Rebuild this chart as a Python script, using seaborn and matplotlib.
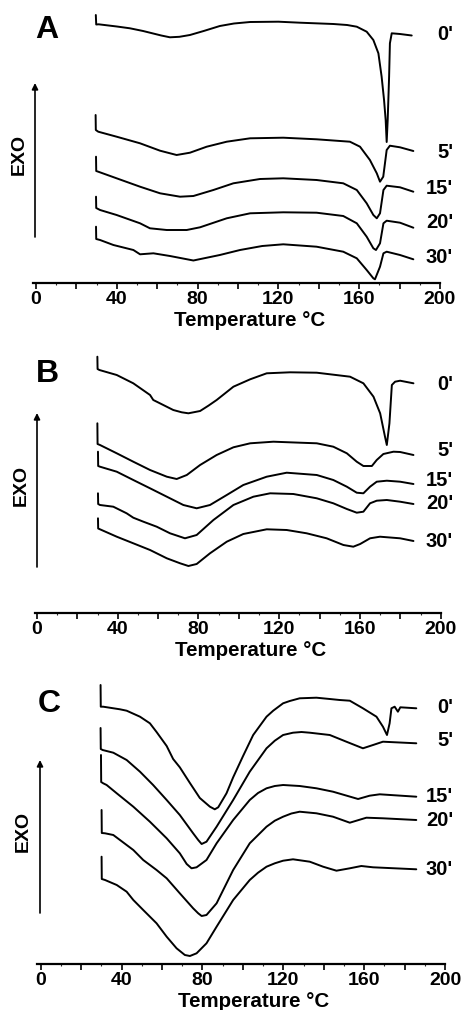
import numpy as np
import pandas as pd
import matplotlib
matplotlib.use("Agg")
import matplotlib.pyplot as plt
import seaborn as sns
from matplotlib.patches import FancyArrowPatch
from matplotlib.transforms import blended_transform_factory

# ---- DSC traces (temperature in °C, heat flow in arbitrary units, exo up) ----
TIMES = ["0'", "5'", "15'", "20'", "30'"]
XTICK_LABELS = ["0", "40", "80", "120", "160", "200"]

# Panel A
T_A0 = [29.6, 29.8, 31, 40, 46.5, 53, 58, 62, 66.3, 71, 76.2, 83, 91, 98, 106, 120, 130.7, 147.2, 154, 158.8, 163.7, 167, 169.5, 171.1, 172.3, 173.1, 173.6, 174.1, 174.8, 175.2, 176.1, 180.2, 186]
Q_A0 = [26.8, 25.85, 25.87, 25.65, 25.47, 25.2, 24.95, 24.75, 24.57, 24.62, 24.8, 25.2, 25.7, 25.95, 26.1, 26.13, 26.03, 25.9, 25.8, 25.63, 25.13, 24.3, 22.97, 20.63, 18.3, 16.3, 14.1, 16.3, 20.63, 23.97, 24.97, 24.9, 24.75]
T_A5 = [29.5, 29.6, 30.8, 39.9, 51.5, 61.4, 69.6, 76.2, 84.5, 94.4, 106.0, 122.4, 138.9, 155.4, 160.4, 165.3, 168.7, 170.3, 171.9, 173.6, 175.2, 180.2, 186.8]
Q_A5 = [16.8, 15.3, 15.13, 14.63, 13.97, 13.23, 12.8, 13.03, 13.63, 14.13, 14.47, 14.53, 14.37, 14.13, 13.63, 12.3, 10.97, 10.13, 10.63, 13.3, 13.73, 13.57, 13.2]
T_A15 = [29.7, 29.8, 30.8, 39.9, 51.5, 61.4, 71.3, 77.9, 87.8, 97.7, 110.9, 122.4, 138.9, 152.1, 158.8, 163.7, 167, 168.7, 170.3, 172, 173.6, 180.2, 186.8]
Q_A15 = [12.63, 11.2, 11.13, 10.47, 9.63, 8.97, 8.63, 8.7, 9.3, 9.97, 10.4, 10.47, 10.3, 9.97, 9.3, 7.97, 6.8, 6.47, 6.97, 9.3, 9.73, 9.57, 9.13]
T_A20 = [29.7, 29.8, 31.7, 39.9, 51.5, 56.4, 64.7, 74.6, 81.2, 94.4, 106, 122.4, 138.9, 152.1, 158.8, 163.7, 167, 168.3, 170.3, 172, 173.6, 180.2, 186.8]
Q_A20 = [8.63, 7.5, 7.3, 6.8, 5.97, 5.47, 5.3, 5.3, 5.57, 6.47, 6.97, 7.07, 7.03, 6.7, 5.97, 4.63, 3.47, 3.3, 3.97, 5.97, 6.23, 6.03, 5.53]
T_A30 = [29.7, 29.8, 31.7, 38.3, 48.2, 51.5, 58.1, 66.3, 77.9, 91, 101, 112, 122.4, 138.9, 152.1, 158.8, 163.7, 167, 167.8, 170.3, 172, 173.6, 180.2, 186.8]
Q_A30 = [5.63, 4.4, 4.3, 3.8, 3.3, 2.87, 2.97, 2.7, 2.25, 2.8, 3.3, 3.7, 3.87, 3.63, 3.13, 2.47, 1.3, 0.47, 0.37, 1.63, 2.97, 3.13, 2.8, 2.37]

# Panel B
T_B0 = [29.9, 30.0, 30.9, 39.5, 47.7, 56, 57.6, 59.3, 67.5, 71.7, 75, 80.8, 84.9, 89, 97.3, 105.6, 113.8, 125.4, 138.6, 155.1, 161.7, 166.7, 170, 172.4, 173.3, 174.6, 175.8, 177.4, 179.9, 186.5]
Q_B0 = [25.63, 24.4, 24.3, 23.8, 22.97, 21.8, 21.3, 21.13, 20.3, 20.07, 19.97, 20.2, 20.73, 21.3, 22.63, 23.37, 23.97, 24.07, 24.03, 23.63, 22.97, 21.63, 19.97, 17.63, 16.8, 18.97, 22.8, 23.13, 23.23, 22.97]
T_B5 = [29.9, 30.0, 31.2, 39.5, 47.7, 56, 64.3, 69.2, 74.2, 80.8, 89, 97.3, 105.6, 117.1, 130.3, 138.6, 146.8, 153.5, 158.4, 161.7, 165.9, 168.3, 171.6, 176.6, 179.9, 186.5]
Q_B5 = [18.97, 16.9, 16.8, 15.97, 15.13, 14.3, 13.63, 13.4, 13.8, 14.8, 15.8, 16.57, 16.97, 17.13, 17.03, 16.97, 16.63, 15.97, 15.13, 14.7, 14.7, 15.3, 15.9, 16.13, 16.1, 15.8]
T_B15 = [30.2, 30.3, 31.2, 39.5, 47.7, 56, 64.3, 72.5, 79.1, 85.7, 94, 102.2, 113.8, 123.7, 138.6, 146.8, 153.5, 158.4, 161.7, 165, 168.3, 173.3, 179.9, 186.5]
Q_B15 = [16.13, 14.7, 14.63, 14.13, 13.3, 12.47, 11.63, 10.8, 10.47, 10.8, 11.8, 12.8, 13.63, 14.03, 13.8, 13.3, 12.63, 12.03, 11.97, 12.63, 13.13, 13.23, 13.13, 12.9]
T_B20 = [30.2, 30.3, 31.2, 37.8, 44.4, 47.7, 52.7, 59.3, 65.9, 73.3, 79.1, 87.4, 97.3, 107.2, 115.5, 127, 138.6, 146.8, 153.5, 158.4, 161.7, 165, 168.3, 173.3, 179.9, 186.5]
Q_B20 = [11.97, 10.9, 10.8, 10.63, 9.97, 9.53, 9.13, 8.63, 7.97, 7.47, 7.8, 9.3, 10.8, 11.63, 11.97, 11.9, 11.47, 10.97, 10.4, 10.03, 10.13, 10.97, 11.23, 11.3, 11.13, 10.9]
T_B30 = [30.2, 30.3, 31.2, 39.5, 47.7, 56, 64.3, 70.9, 75, 79.1, 85.7, 94, 102.2, 113.8, 123.7, 133.6, 143.5, 151.8, 156.7, 160.1, 165, 169.9, 179.9, 186.5]
Q_B30 = [9.47, 8.45, 8.37, 7.63, 6.97, 6.3, 5.47, 4.97, 4.7, 4.9, 5.97, 7.13, 7.9, 8.37, 8.3, 7.97, 7.47, 6.8, 6.63, 6.9, 7.47, 7.63, 7.47, 7.2]

# Panel C
T_C0 = [29.6, 29.7, 30.9, 39.2, 42.5, 49.1, 54.0, 57.3, 62.3, 65.5, 68.8, 73.8, 78.7, 83.7, 86.1, 87.8, 91.9, 95.2, 100.1, 105.1, 111.7, 115, 119.9, 123.2, 128.1, 136.4, 143, 147.9, 152.9, 159.4, 166.1, 169.3, 171.3, 172.6, 173.5, 175.1, 176.7, 177.9, 185.8]
Q_C0 = [27.9, 25.73, 25.73, 25.47, 25.33, 24.73, 24.07, 23.2, 21.8, 20.5, 19.67, 18.1, 16.6, 15.73, 15.47, 15.67, 17.07, 18.67, 20.8, 22.9, 24.73, 25.33, 26.07, 26.3, 26.57, 26.63, 26.5, 26.4, 26.33, 25.57, 24.73, 23.73, 22.9, 24.07, 25.57, 25.73, 25.23, 25.67, 25.57]
T_C5 = [29.6, 29.7, 30.6, 35.9, 42.5, 49.1, 55.6, 62.3, 68.8, 75.4, 77.9, 79.6, 82, 87, 95.2, 103.4, 111.7, 115.8, 119.9, 124.8, 129, 133.1, 143, 151.2, 159.4, 164.4, 169.3, 185.8]
Q_C5 = [23.6, 21.5, 21.4, 21.13, 20.4, 19.23, 17.9, 16.4, 14.9, 13.07, 12.4, 12, 12.23, 13.73, 16.4, 19.23, 21.57, 22.33, 22.9, 23.13, 23.2, 23.13, 22.9, 22.23, 21.57, 21.9, 22.23, 22.07]
T_C15 = [29.8, 29.9, 30.9, 32.6, 37.6, 45.8, 54, 62.3, 68.8, 72.2, 74.6, 77.1, 82, 87, 95.2, 103.4, 107.5, 111.7, 115.8, 119.9, 128.1, 136.4, 144.6, 157, 162.7, 167.7, 185.8]
Q_C15 = [20.9, 18.2, 18.07, 17.9, 17.07, 15.73, 14.23, 12.57, 11.07, 10.0, 9.57, 9.67, 10.4, 12.07, 14.4, 16.4, 17.1, 17.57, 17.8, 17.9, 17.8, 17.57, 17.23, 16.5, 16.83, 16.97, 16.73]
T_C20 = [30.1, 30.2, 31.8, 35.9, 39.2, 45.8, 50.7, 57.3, 62.3, 68.8, 75.4, 77.9, 79.6, 82, 87, 95.2, 103.4, 111.7, 115.8, 119.9, 124, 128.1, 136.4, 144.6, 152.9, 161.1, 169.3, 185.8]
Q_C20 = [15.4, 13.1, 13.07, 12.9, 12.4, 11.4, 10.4, 9.4, 8.57, 7.07, 5.57, 5.07, 4.8, 4.9, 6.07, 9.4, 12.07, 13.73, 14.33, 14.73, 15.05, 15.23, 15.07, 14.73, 14.13, 14.63, 14.57, 14.4]
T_C30 = [30.1, 30.2, 31.8, 37.6, 42.5, 45.8, 50.7, 57.3, 62.3, 67.2, 71.3, 73.8, 77.1, 82, 87, 95.2, 103.4, 107.5, 111.7, 115.8, 119.9, 124.8, 133.1, 139.7, 146.3, 152.9, 158.6, 164.4, 185.8]
Q_C30 = [10.73, 8.5, 8.4, 7.9, 7.23, 6.4, 5.4, 4.07, 2.73, 1.57, 0.9, 0.8, 1.07, 2.07, 3.73, 6.4, 8.4, 9.13, 9.73, 10.07, 10.33, 10.47, 10.23, 9.73, 9.33, 9.57, 9.8, 9.67, 9.47]

# Heat-flow level at which each time label sits, per panel
LABEL_Y_A = [24.8, 13.1, 9.4, 6.1, 2.55]
LABEL_Y_B = [22.8, 16.2, 13.2, 10.97, 7.13]
LABEL_Y_C = [25.65, 22.3, 16.73, 14.4, 9.48]

# ---- styling ----
sns.set_theme(style="white")
plt.rcParams["font.family"] = ["Liberation Sans", "DejaVu Sans"]
plt.rcParams["font.weight"] = "bold"

W, H = 464, 1010
fig = plt.figure(figsize=(W / 100, H / 100), dpi=100)
fig.patch.set_facecolor("white")

panels = [
    dict(letter="A", curves=[(T_A0, Q_A0), (T_A5, Q_A5), (T_A15, Q_A15), (T_A20, Q_A20), (T_A30, Q_A30)],
         label_y=LABEL_Y_A, axis_px=283, top_px=0, left_px=33, right_px=440, xmin=-1.5,
         letter_xy=(35, 38), exo_xy=(19, 154), arrow=(35, 237, 83)),
    dict(letter="B", curves=[(T_B0, Q_B0), (T_B5, Q_B5), (T_B15, Q_B15), (T_B20, Q_B20), (T_B30, Q_B30)],
         label_y=LABEL_Y_B, axis_px=613, top_px=335, left_px=35, right_px=440.7, xmin=-1.0,
         letter_xy=(36, 381.5), exo_xy=(21, 485), arrow=(37, 567, 413)),
    dict(letter="C", curves=[(T_C0, Q_C0), (T_C5, Q_C5), (T_C15, Q_C15), (T_C20, Q_C20), (T_C30, Q_C30)],
         label_y=LABEL_Y_C, axis_px=964, top_px=670, left_px=36.7, right_px=445, xmin=-2.0,
         letter_xy=(38, 712), exo_xy=(23.5, 831), arrow=(40, 913, 760)),
]

for p in panels:
    h_px = p["axis_px"] - p["top_px"]
    ax = fig.add_axes([p["left_px"] / W, 1 - p["axis_px"] / H,
                       (p["right_px"] - p["left_px"]) / W, h_px / H])
    ax.set_facecolor("none")

    frames = [pd.DataFrame({"T": t, "Q": q, "time": lab})
              for (t, q), lab in zip(p["curves"], TIMES)]
    df = pd.concat(frames, ignore_index=True)
    sns.lineplot(data=df, x="T", y="Q", units="time", estimator=None, sort=False,
                 color="black", linewidth=1.4, ax=ax, legend=False,
                 solid_joinstyle="round", solid_capstyle="round")

    ax.set_xlim(p["xmin"], 200)
    ax.set_ylim(0, h_px / 10)
    for side in ("top", "right", "left"):
        ax.spines[side].set_visible(False)
    ax.spines["bottom"].set_color("black")
    ax.spines["bottom"].set_linewidth(1.6)
    ax.set_yticks([])
    ax.set_ylabel("")

    major = np.arange(0, 201, 20)
    ax.set_xticks(major)
    ax.set_xticklabels([XTICK_LABELS[i // 2] if i % 2 == 0 else "" for i in range(len(major))])
    ax.set_xticks(np.arange(0, 201, 10), minor=True)
    ax.tick_params(axis="x", which="major", direction="out", length=4, width=1.2,
                   pad=2, labelsize=14, colors="black", bottom=True)
    ax.tick_params(axis="x", which="minor", direction="out", length=1.5, width=0.8,
                   bottom=True)
    for lbl in ax.get_xticklabels():
        lbl.set_fontweight("bold")

    ax.set_xlabel("Temperature °C", fontsize=14.8, fontweight="bold", color="black")
    ax.xaxis.set_label_coords(0.531, -28 / h_px)

    trans = blended_transform_factory(fig.transFigure, ax.transData)
    for lab, y in zip(TIMES, p["label_y"]):
        ax.text(453 / W, y, lab, transform=trans, ha="right", va="center",
                fontsize=14.5, fontweight="bold", color="black", clip_on=False)

    lx, ly = p["letter_xy"]
    fig.text(lx / W, 1 - ly / H, p["letter"], fontsize=23, fontweight="bold",
             ha="left", va="baseline", color="black")
    ex, ey = p["exo_xy"]
    fig.text(ex / W, 1 - ey / H, "EXO", rotation=90, fontsize=14, fontweight="bold",
             ha="center", va="center", color="black")
    axx, y0, y1 = p["arrow"]
    fig.add_artist(FancyArrowPatch((axx / W, 1 - y0 / H), (axx / W, 1 - y1 / H),
                                   transform=fig.transFigure, arrowstyle="-|>",
                                   mutation_scale=9, linewidth=1.2, color="black",
                                   shrinkA=0, shrinkB=0))

fig.savefig("out.png", dpi=100)
